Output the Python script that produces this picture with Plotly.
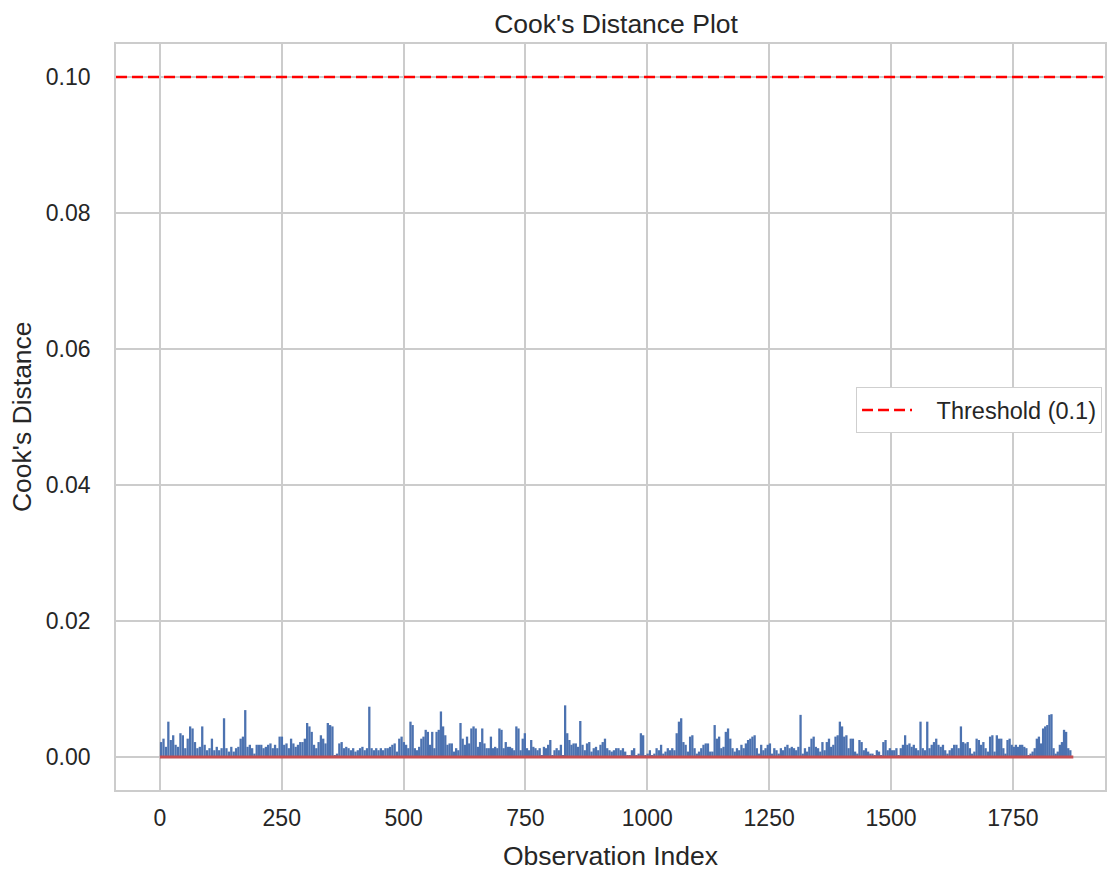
import numpy as np
import plotly.graph_objects as go

# Cook's distance values (units of 1e-4), read segment by segment along the index axis
seg_bounds = [0, 154, 328, 503, 677, 851, 1026, 1200, 1375, 1549, 1724, 1870]
s1 = [22,27,15,52,25,32,18,15,35,32,13,27,45,42,22,13,15,45,18,10,13,27,10,15,10,13,57,13,8,15,8]
s2 = [13,15,27,30,69,15,18,13,5,18,18,18,13,15,18,20,13,18,13,30,30,18,20,13,27,20,15,18,22,22,27,50,45,37,18,13,22]
s3 = [32,27,20,50,47,45,3,5,20,22,13,15,13,10,13,8,10,13,15,10,13,74,13,10,13,10,13,10,13,13,15,18,20,8,27,30,22]
s4 = [18,13,52,47,13,10,15,27,30,40,37,18,37,13,37,40,67,45,32,18,20,20,8,13,10,50,27,18,30,20,42,45,42,15,22,42,20,13,13]
s5 = [30,13,15,13,42,40,13,22,15,15,13,10,45,42,10,27,35,13,10,25,15,13,10,13,3,15,13,18,25,3,10,13,10,18,3,76,35,25,18,20]
s6 = [20,15,53,18,10,20,22,8,13,15,10,18,22,27,13,10,8,10,13,13,10,13,8,3,3,10,13,3,5,35,32,3,5,10,3,5,13,10]
s7 = [18,5,8,13,10,13,10,35,52,57,22,18,8,30,32,13,5,8,13,18,20,20,8,8,47,27,30,13,15,37,42,27,13,8,13,10,18,13]
s8 = [20,25,27,30,32,13,5,18,10,13,18,20,5,13,10,5,13,10,15,18,13,15,13,10,15,62,5,13,8,15,27,30,15,13,8,22,10,22,27]
s9 = [15,18,30,32,52,45,30,32,13,27,27,8,5,25,22,10,13,8,5,5,3,10,8,3,22,25,10,13,10,10,13,3,13,18,32,18,20,15,18]
s10 = [13,10,52,13,10,52,13,18,22,27,18,15,18,10,5,10,13,18,18,13,45,22,20,22,13,5,8,27,25,18,22,13,8,30,32,8,32,27]
s11 = [27,13,5,25,27,18,15,18,15,18,18,15,13,3,5,8,13,27,30,20,42,45,47,62,63,13,5,8,18,22,40,37,13,10]
segments = [s1, s2, s3, s4, s5, s6, s7, s8, s9, s10, s11]
threshold = 0.1
threshold_label = "Threshold (0.1)"
n_obs = 1875

x_tick_vals = [0, 250, 500, 750, 1000, 1250, 1500, 1750]
y_tick_vals = [0.0, 0.02, 0.04, 0.06, 0.08, 0.10]

xs, ys = [], []
for k, seg in enumerate(segments):
    a, b = seg_bounds[k], seg_bounds[k + 1]
    step = (b - a) / len(seg)
    for i, v in enumerate(seg):
        xi = a + (i + 0.5) * step
        xs += [xi, xi, None]
        ys += [0, v * 1e-4, None]

x_range = [-90, 1939]
y_range = [-0.00485, 0.10485]

fig = go.Figure()
fig.add_trace(go.Scatter(x=xs, y=ys, mode="lines",
                         line=dict(color="#4c72b0", width=2.3),
                         showlegend=False, hoverinfo="skip"))
fig.add_trace(go.Scatter(x=[0, n_obs - 1], y=[0, 0], mode="lines",
                         line=dict(color="#c44e52", width=3),
                         showlegend=False))
fig.add_trace(go.Scatter(x=x_range, y=[threshold, threshold], mode="lines",
                         line=dict(color="red", width=2.6, dash="11px,5px"),
                         name="\u00a0\u00a0\u00a0" + threshold_label))

font_family = "Liberation Sans, Arial, sans-serif"
text_col = "#262626"
fig.update_layout(
    width=1107, height=871,
    margin=dict(l=116, r=2, t=44, b=81, autoexpand=False),
    paper_bgcolor="white", plot_bgcolor="white",
    font=dict(family=font_family, color=text_col, size=23),
    title=dict(text="Cook's Distance Plot", x=0.5565, xanchor="center",
               y=0.9724, yanchor="middle", font=dict(size=26.5, color=text_col)),
    legend=dict(x=0.997, xanchor="right", y=0.509, yanchor="middle",
                bgcolor="white", bordercolor="#cfcfcf", borderwidth=1,
                itemwidth=50,
                font=dict(size=23.5, color=text_col)),
    showlegend=True,
    annotations=[
        dict(text="Observation Index", xref="paper", yref="paper", x=0.5, y=-0.0885,
             xanchor="center", yanchor="middle", showarrow=False,
             font=dict(size=26.5, color=text_col)),
        dict(text="Cook's Distance", xref="paper", yref="paper", x=-0.095, y=0.5,
             xanchor="center", yanchor="middle", showarrow=False, textangle=-90,
             font=dict(size=26.5, color=text_col)),
    ],
)
fig.update_xaxes(range=x_range, tickvals=x_tick_vals, showgrid=True,
                 gridcolor="#cccccc", gridwidth=1.6, zeroline=False,
                 showline=True, linecolor="#cccccc", linewidth=1.8, mirror=True,
                 ticks="", ticklabelstandoff=6, automargin=False)
fig.update_yaxes(range=y_range, tickvals=y_tick_vals, tickformat=".2f", showgrid=True,
                 gridcolor="#cccccc", gridwidth=1.6, zeroline=False,
                 showline=True, linecolor="#cccccc", linewidth=1.8, mirror=True,
                 ticks="", ticklabelstandoff=19, automargin=False)

fig.write_html("out.html")
